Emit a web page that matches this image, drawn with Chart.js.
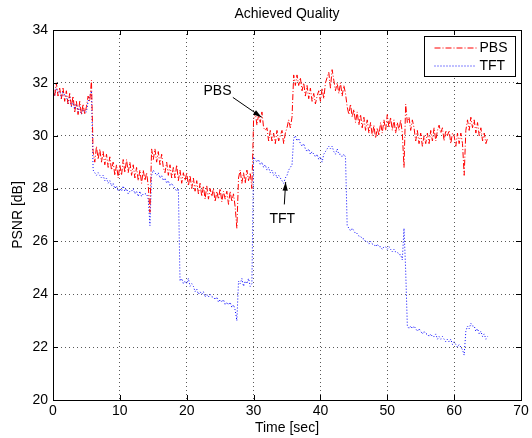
<!DOCTYPE html>
<html>
<head>
<meta charset="utf-8">
<title>Achieved Quality</title>
<script src="https://cdn.jsdelivr.net/npm/chart.js@4.4.1/dist/chart.umd.min.js"></script>
<style>
  body { margin: 0; background: #fff; }
  canvas { display: block; }
</style>
</head>
<body>
<canvas id="qualityChart" width="532" height="438"></canvas>
<script>
// PSNR samples every 0.25 s (one row = one second)
const sampleStep = 0.25;

const pbsValues = [
  31.9, 31.5, 32.0, 31.5,  31.8, 31.4, 31.8, 31.3,  31.7, 31.2, 31.6, 31.1,
  31.5, 30.9, 31.3, 30.8,  31.3, 30.8, 31.2, 30.8,  31.1, 31.5, 31.3, 32.1,
  29.4, 29.0, 29.6, 29.1,  29.5, 29.0, 29.4, 28.9,  29.3, 28.8, 29.2, 28.7,
  29.0, 28.5, 28.9, 28.4,  28.9, 28.5, 29.1, 28.6,  29.1, 28.6, 29.0, 28.5,
  28.9, 28.4, 28.8, 28.3,  28.7, 28.2, 28.7, 28.3,  28.6, 28.1, 27.1, 29.5,
  29.1, 29.5, 29.0, 29.4,  28.9, 29.3, 28.8, 28.6,  29.0, 28.5, 28.9, 28.4,
  28.8, 28.4, 28.9, 28.3,  28.7, 28.2, 28.6, 28.3,  28.6, 28.1, 28.5, 28.0,
  28.4, 27.9, 28.3, 27.8,  28.2, 27.7, 28.1, 27.6,  28.1, 27.6, 28.0, 27.7,
  28.0, 27.5, 27.9, 27.6,  28.0, 27.5, 27.9, 27.6,  27.9, 27.4, 27.9, 27.5,
  27.8, 27.3, 26.5, 28.4,  28.7, 28.2, 28.6, 28.2,  28.7, 28.3, 28.6, 28.0,
  30.6, 30.9, 30.4, 30.8,  30.5, 30.9, 30.3, 30.2,  30.3, 29.8, 30.2, 29.8,
  30.1, 29.7, 30.2, 29.8,  30.0, 30.2, 29.7, 30.1,  30.3, 30.6, 30.3, 30.7,
  32.3, 31.9, 32.3, 31.9,  32.2, 31.7, 32.0, 31.5,  31.9, 31.4, 31.8, 31.3,
  31.6, 31.2, 31.5, 31.7,  31.3, 31.8, 31.4, 32.0,  32.2, 32.4, 31.8, 32.5,
  32.1, 31.7, 32.0, 31.6,  32.0, 31.5, 31.9, 31.6,  31.1, 30.8, 31.2, 30.7,
  31.0, 30.5, 30.9, 30.4,  30.8, 30.3, 30.7, 30.2,  30.6, 30.1, 30.5, 30.0,
  30.4, 29.9, 30.3, 30.0,  30.5, 30.1, 30.6, 30.2,  30.8, 30.3, 30.7, 30.2,
  30.6, 30.1, 30.5, 30.2,  30.6, 30.1, 28.8, 31.2,  30.5, 30.7, 30.2, 30.6,
  30.3, 29.8, 30.2, 29.7,  30.1, 29.6, 30.0, 29.7,  30.1, 29.7, 30.2, 29.8,
  30.3, 29.8, 30.2, 30.4,  30.1, 30.3, 29.8, 30.2,  30.0, 30.2, 29.7, 30.1,
  30.0, 29.6, 30.1, 29.7,  30.1, 29.7, 28.5, 30.2,  30.6, 30.2, 30.7, 30.3,
  30.6, 30.1, 30.5, 30.0,  30.3, 29.8, 30.1, 29.7,  29.9
];

const tftValues = [
  31.7, 31.5, 31.8, 31.6,  31.7, 31.4, 31.7, 31.5,  31.5, 31.2, 31.5, 31.1,
  31.3, 31.0, 31.2, 30.9,  31.1, 30.8, 31.0, 30.9,  30.9, 31.3, 31.5, 31.7,
  28.7, 28.6, 28.5, 28.6,  28.5, 28.4, 28.5, 28.3,  28.4, 28.2, 28.3, 28.1,
  28.2, 28.0, 28.1, 27.9,  28.0, 27.9, 28.1, 27.9,  28.0, 27.8, 27.9, 27.9,
  28.0, 27.8, 27.9, 27.7,  27.9, 27.7, 27.8, 27.8,  27.8, 27.6, 26.6, 28.5,
  28.7, 28.6, 28.5, 28.6,  28.4, 28.5, 28.3, 28.4,  28.2, 28.3, 28.1, 28.2,
  28.1, 28.0, 27.9, 28.0,  24.5, 24.6, 24.4, 24.5,  24.4, 24.6, 24.3, 24.4,
  24.3, 24.1, 24.2, 24.0,  24.1, 24.0, 24.1, 23.9,  24.0, 23.9, 24.0, 23.9,
  23.9, 23.8, 23.9, 23.7,  23.8, 23.7, 23.8, 23.6,  23.7, 23.6, 23.7, 23.5,
  23.6, 23.4, 23.0, 24.5,  24.4, 24.6, 24.3, 24.5,  24.4, 24.6, 24.3, 24.4,
  29.2, 29.1, 29.0, 29.1,  28.9, 29.0, 28.8, 28.9,  28.7, 28.8, 28.6, 28.7,
  28.5, 28.6, 28.4, 28.5,  28.4, 28.3, 28.2, 28.4,  28.5, 28.7, 28.8, 28.9,
  29.9, 30.0, 29.8, 29.9,  29.7, 29.6, 29.7, 29.5,  29.4, 29.5, 29.3, 29.4,
  29.3, 29.2, 29.3, 29.1,  29.2, 29.0, 29.3, 29.4,  29.5, 29.6, 29.5, 29.6,
  29.4, 29.3, 29.5, 29.3,  29.3, 29.2, 29.3, 29.2,  26.6, 26.5, 26.4, 26.5,
  26.4, 26.3, 26.3, 26.2,  26.2, 26.1, 26.1, 26.0,  26.0, 25.9, 26.0, 25.9,
  25.9, 25.8, 25.9, 25.8,  25.8, 25.7, 25.8, 25.8,  25.7, 25.8, 25.7, 25.6,
  25.7, 25.6, 25.6, 25.5,  25.5, 25.3, 26.5, 24.9,  22.8, 22.7, 22.8, 22.7,
  22.8, 22.7, 22.6, 22.7,  22.6, 22.5, 22.6, 22.5,  22.5, 22.4, 22.5, 22.4,
  22.4, 22.5, 22.3, 22.4,  22.3, 22.4, 22.3, 22.2,  22.3, 22.2, 22.3, 22.1,
  22.2, 22.1, 22.0, 22.1,  22.0, 21.9, 21.7, 22.6,  22.8, 22.7, 22.9, 22.8,
  22.8, 22.6, 22.7, 22.5,  22.6, 22.4, 22.5, 22.3,  22.4
];

const xTicks = [0, 10, 20, 30, 40, 50, 60, 70];
const yTicks = [20, 22, 24, 26, 28, 30, 32, 34];
const chartTitle = 'Achieved Quality';

// text labels with arrows: [label, textX, textY, fromX, fromY, toX, toY] in data units
const callouts = [
  ['PBS', 24.6, 31.7, 26.9, 31.45, 31.2, 30.7],
  ['TFT', 34.3, 26.85, 34.6, 27.4, 34.8, 28.25]
];

const FONT = '"Liberation Sans", Arial, Helvetica, sans-serif';

function toPoints(values) {
  return values.map((v, i) => ({ x: i * sampleStep, y: v }));
}

// MATLAB style box with inward ticks, title, callouts and legend
const matlabFrame = {
  id: 'matlabFrame',
  afterDraw(chart) {
    const { ctx, chartArea: a, scales } = chart;
    ctx.save();
    ctx.strokeStyle = '#000';
    ctx.lineWidth = 1;
    ctx.setLineDash([]);
    ctx.strokeRect(Math.round(a.left) + 0.5, Math.round(a.top) + 0.5,
      Math.round(a.right - a.left), Math.round(a.bottom - a.top));

    ctx.beginPath();
    xTicks.forEach(t => {
      const px = Math.round(scales.x.getPixelForValue(t)) + 0.5;
      ctx.moveTo(px, a.bottom); ctx.lineTo(px, a.bottom - 5);
      ctx.moveTo(px, a.top); ctx.lineTo(px, a.top + 5);
    });
    yTicks.forEach(t => {
      const py = Math.round(scales.y.getPixelForValue(t)) + 0.5;
      ctx.moveTo(a.left, py); ctx.lineTo(a.left + 5, py);
      ctx.moveTo(a.right, py); ctx.lineTo(a.right - 5, py);
    });
    ctx.stroke();

    // title centred over the plot box
    ctx.fillStyle = '#000';
    ctx.textAlign = 'center';
    ctx.textBaseline = 'middle';
    ctx.font = '14px ' + FONT;
    ctx.fillText(chartTitle, (a.left + a.right) / 2, a.top - 16);

    // callouts
    ctx.font = '14px ' + FONT;
    callouts.forEach(([label, tx, ty, fx, fy, ax, ay]) => {
      ctx.fillText(label, scales.x.getPixelForValue(tx), scales.y.getPixelForValue(ty));
      const x1 = scales.x.getPixelForValue(fx), y1 = scales.y.getPixelForValue(fy);
      const x2 = scales.x.getPixelForValue(ax), y2 = scales.y.getPixelForValue(ay);
      const ang = Math.atan2(y2 - y1, x2 - x1);
      ctx.beginPath();
      ctx.moveTo(x1, y1); ctx.lineTo(x2, y2);
      ctx.stroke();
      ctx.beginPath();
      ctx.moveTo(x2, y2);
      ctx.lineTo(x2 - 9 * Math.cos(ang - 0.3), y2 - 9 * Math.sin(ang - 0.3));
      ctx.lineTo(x2 - 9 * Math.cos(ang + 0.3), y2 - 9 * Math.sin(ang + 0.3));
      ctx.closePath();
      ctx.fill();
    });

    // legend box
    const bx = Math.round(a.right) - 96.5, by = Math.round(a.top) + 6.5;
    ctx.fillStyle = '#fff';
    ctx.fillRect(bx, by, 91, 40);
    ctx.strokeRect(bx, by, 91, 40);
    chart.data.datasets.forEach((ds, i) => {
      const ly = by + 11.5 + i * 18;
      ctx.beginPath();
      ctx.strokeStyle = ds.borderColor;
      ctx.setLineDash(ds.borderDash);
      ctx.moveTo(bx + 10, ly); ctx.lineTo(bx + 52, ly);
      ctx.stroke();
      ctx.setLineDash([]);
      ctx.fillStyle = '#000';
      ctx.textAlign = 'left';
      ctx.fillText(ds.label, bx + 55, ly + 0.5);
    });
    ctx.restore();
  }
};

new Chart(document.getElementById('qualityChart'), {
  type: 'line',
  data: {
    datasets: [
      {
        label: 'PBS',
        data: toPoints(pbsValues),
        borderColor: '#ff0000',
        borderWidth: 1,
        borderDash: [6, 2, 1, 2],
        pointRadius: 0,
        tension: 0
      },
      {
        label: 'TFT',
        data: toPoints(tftValues),
        borderColor: '#0000ff',
        borderWidth: 1,
        borderDash: [1, 2],
        pointRadius: 0,
        tension: 0
      }
    ]
  },
  options: {
    responsive: false,
    animation: false,
    devicePixelRatio: 1,
    layout: { padding: { left: 0, right: 11, top: 30, bottom: 0 } },
    plugins: {
      legend: { display: false },
      tooltip: { enabled: false },
      title: { display: false }
    },
    scales: {
      x: {
        type: 'linear',
        min: 0,
        max: 70,
        afterFit: scale => { scale.height = 38; },
        afterBuildTicks: scale => { scale.ticks = xTicks.map(v => ({ value: v })); },
        ticks: { color: '#000', font: { family: FONT, size: 14 }, padding: 3, maxRotation: 0 },
        grid: { color: 'rgba(0,0,0,0.65)', drawTicks: false },
        border: { display: false, dash: [1, 3] },
        title: {
          display: true,
          text: 'Time [sec]',
          color: '#000',
          font: { family: FONT, size: 14 },
          padding: { top: 0, bottom: 1 }
        }
      },
      y: {
        type: 'linear',
        min: 20,
        max: 34,
        afterFit: scale => { scale.width = 53; },
        afterBuildTicks: scale => { scale.ticks = yTicks.map(v => ({ value: v })); },
        ticks: { color: '#000', font: { family: FONT, size: 14 }, padding: 5 },
        grid: { color: 'rgba(0,0,0,0.65)', drawTicks: false },
        border: { display: false, dash: [1, 3] },
        title: {
          display: true,
          text: 'PSNR [dB]',
          color: '#000',
          font: { family: FONT, size: 14 },
          padding: { top: 10, bottom: 0 }
        }
      }
    }
  },
  plugins: [matlabFrame]
});
</script>
</body>
</html>
